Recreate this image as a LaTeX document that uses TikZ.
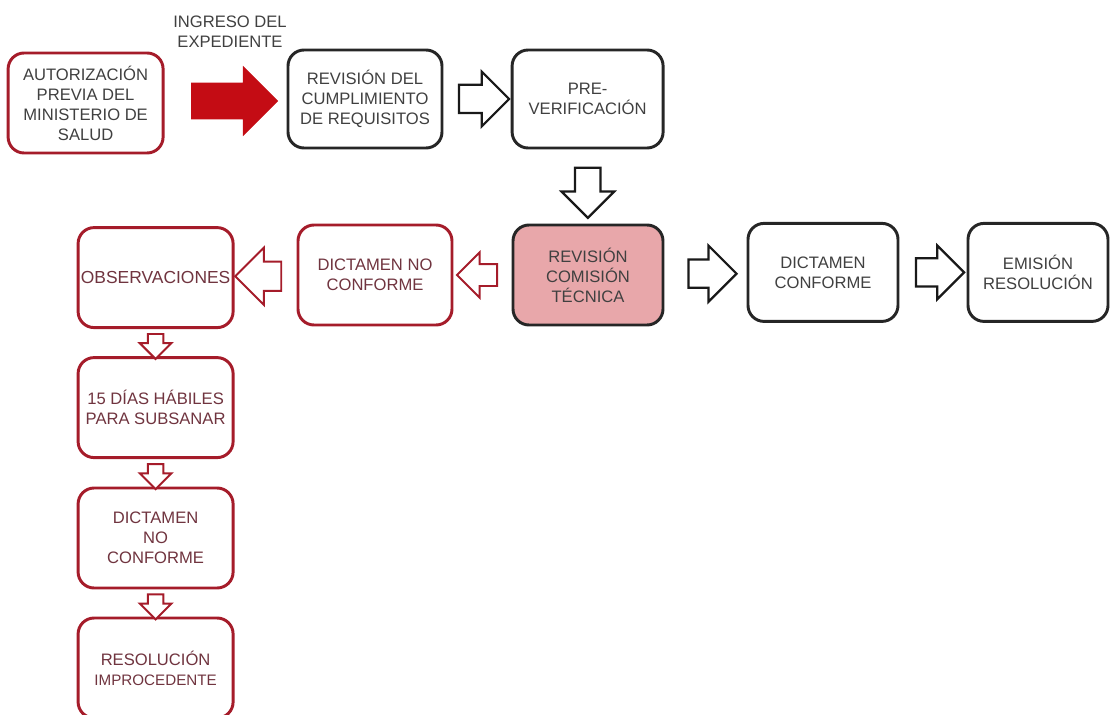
\documentclass[tikz,border=0pt]{standalone}
\usepackage{fontspec}
\setmainfont{Liberation Sans}
\usetikzlibrary{shapes.arrows,calc}

\definecolor{boxred}{RGB}{165,28,42}
\definecolor{arrowred}{RGB}{196,12,20}
\definecolor{pinkfill}{RGB}{232,167,170}
\definecolor{graytext}{RGB}{64,64,64}
\definecolor{redtext}{RGB}{112,52,63}

\tikzset{
  stepbox/.style={draw=black!85, line width=2.1pt, rounded corners=0.4cm, fill=white,
    align=center, text=graytext, font=\fontsize{11.8}{14.2}\selectfont,
    minimum width=3.85cm, minimum height=2.45cm, inner sep=1pt},
  redbox/.style={stepbox, draw=boxred, text=redtext, minimum width=3.875cm, minimum height=2.5cm},
  fatarrow/.style={single arrow, draw=black!90, line width=1.6pt, fill=white,
    inner xsep=0pt, outer sep=0pt},
  redarrow/.style={fatarrow, draw=boxred, line width=1.4pt}
}

\begin{document}
\begin{tikzpicture}
    % Page
    \useasboundingbox (0,0) rectangle (27.75,-17.875);

    % Row 1
    \node[redbox, text=graytext] (auto) at (2.14,-2.575) {AUTORIZACIÓN\\PREVIA DEL\\MINISTERIO DE\\SALUD};
    \node[stepbox] (cumpl) at (9.125,-2.475) {REVISIÓN DEL\\CUMPLIMIENTO\\DE REQUISITOS};
    \node[stepbox, minimum width=3.775cm] (prever) at (14.69,-2.475) {PRE-\\VERIFICACIÓN};

    % Ingreso del expediente
    \node[single arrow, fill=arrowred, draw=arrowred, line width=0.5pt, inner xsep=0pt,
      inner ysep=0.44cm, minimum height=2.15cm, single arrow head extend=0.41cm]
      (ingreso) at ($(auto.east)!0.5!(cumpl.west)$) {};
    \node[align=center, text=graytext, font=\fontsize{11.8}{14.2}\selectfont] (inglabel) at (5.75,-0.8) {INGRESO DEL\\EXPEDIENTE};

    % Row 2
    \node[stepbox, fill=pinkfill, minimum width=3.75cm, minimum height=2.5cm] (comision) at (14.7,-6.875) {REVISIÓN\\COMISIÓN\\TÉCNICA};
    \node[stepbox, minimum width=3.75cm] (conforme) at (20.575,-6.81) {DICTAMEN\\CONFORME};
    \node[stepbox, minimum width=3.5cm] (emision) at (25.95,-6.81) {EMISIÓN\\RESOLUCIÓN};
    \node[redbox, minimum width=3.85cm] (nocon) at (9.375,-6.875) {DICTAMEN NO\\CONFORME};

    % Left column
    \node[redbox, font=\fontsize{12.4}{14.2}\selectfont] (obs) at (3.89,-6.94) {OBSERVACIONES};
    \node[redbox] (dias) at (3.89,-10.19) {15 DÍAS HÁBILES\\PARA SUBSANAR};
    \node[redbox] (nocontwo) at (3.89,-13.45) {DICTAMEN\\NO\\CONFORME};
    \node[redbox] (improc) at (3.89,-16.7) {RESOLUCIÓN\\{\fontsize{10.8}{13}\selectfont IMPROCEDENTE}};

    % Black arrows
    \node[fatarrow, minimum height=1.25cm, inner ysep=0.325cm, single arrow head extend=0.33cm]
      (a-cumpl) at ($(cumpl.east)!0.5!(prever.west)$) {};
    \node[fatarrow, rotate=-90, minimum height=1.25cm, inner ysep=0.29cm, single arrow head extend=0.34cm]
      (a-prever) at ($(prever.south)!0.5!(comision.north)$) {};
    \node[fatarrow, minimum height=1.2cm, inner ysep=0.325cm, single arrow head extend=0.35cm]
      (a-comision) at ($(comision.east)!0.5!(conforme.west)$) {};
    \node[fatarrow, minimum height=1.2cm, inner ysep=0.325cm, single arrow head extend=0.32cm]
      (a-conforme) at ($(conforme.east)!0.5!(emision.west)$) {};

    % Red arrows
    \node[redarrow, rotate=180, minimum height=1cm, inner ysep=0.25cm, single arrow head extend=0.29cm]
      (a-nocon) at ($(comision.west)!0.5!(nocon.east)$) {};
    \node[redarrow, rotate=180, minimum height=1.15cm, inner ysep=0.34cm, single arrow head extend=0.35cm]
      (a-obs) at ($(nocon.west)!0.5!(obs.east)$) {};
    \foreach \a/\b in {obs/dias, dias/nocontwo, nocontwo/improc} {
        \node[redarrow, rotate=-90, minimum height=0.625cm, inner ysep=0.17cm, single arrow head extend=0.2cm]
          (a-\a) at ($(\a.south)!0.5!(\b.north)$) {};
    }
\end{tikzpicture}
\end{document}
